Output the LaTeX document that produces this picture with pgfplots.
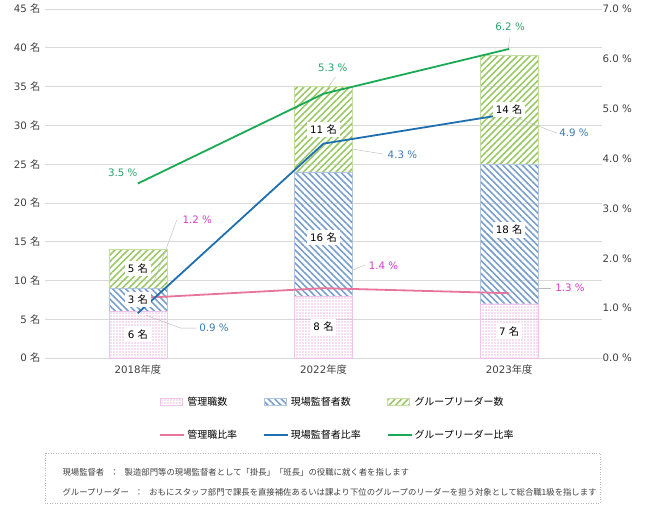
\documentclass[border=0pt]{standalone}
\usepackage{pgfplots}
\pgfplotsset{compat=1.18}
\usetikzlibrary{patterns.meta}
\usepackage{fontspec}
\setmainfont{DejaVu Sans}
\newfontfamily\jp{Noto Sans CJK JP}
\definecolor{pkdot}{HTML}{D96CC8}
\definecolor{blstripe}{HTML}{7A9FCC}
\definecolor{grstripe}{HTML}{9CC866}
\definecolor{pkline}{HTML}{E8739B}
\definecolor{blline}{HTML}{1F6FB0}
\definecolor{grline}{HTML}{1AAA55}
\definecolor{pklabel}{HTML}{D23CC8}
\definecolor{bllabel}{HTML}{3B7BB5}
\definecolor{grlabel}{HTML}{2AA36A}
\definecolor{tickgray}{HTML}{404040}
\pgfplotsset{
  barlegend/.style={legend image code/.code={\draw[##1] (0bp,-3.5bp) rectangle (22bp,3.5bp);}},
  linelegend/.style={legend image code/.code={\draw[##1] (0bp,0bp) -- (24bp,0bp);}},
  pkbar/.style={draw=pkdot!40, line width=0.4bp, pattern={Dots[radius=0.55bp, distance=3bp]}, pattern color=pkdot},
  blbar/.style={draw=blstripe!60, line width=0.4bp, pattern={Lines[angle=-45, distance=4.6bp, line width=1.6bp]}, pattern color=blstripe},
  grbar/.style={draw=grstripe!60, line width=0.4bp, pattern={Lines[angle=45, distance=4.6bp, line width=1.6bp]}, pattern color=grstripe},
}
\begin{document}
\begin{tikzpicture}[font=\fontsize{10.3}{12}\selectfont]
\useasboundingbox (-45bp,-150bp) rectangle (600bp,358bp);
\begin{axis}[
  scale only axis, width=557bp, height=349bp,
  ybar stacked, bar width=58bp,
  xmin=-0.5, xmax=2.5, ymin=0, ymax=45,
  xtick={0,1,2}, xticklabels={2018{\jp 年度},2022{\jp 年度},2023{\jp 年度}},
  ytick={0,5,...,45},
  yticklabels={0 {\jp 名},5 {\jp 名},10 {\jp 名},15 {\jp 名},20 {\jp 名},25 {\jp 名},30 {\jp 名},35 {\jp 名},40 {\jp 名},45 {\jp 名}},
  ymajorgrids, grid style={draw=gray!30, line width=0.6bp},
  axis line style={draw=none}, tick style={draw=none},
  axis y line*=left, axis x line*=bottom,
  ticklabel style={text=tickgray},
  xticklabel style={yshift=-3bp},
  yticklabel style={xshift=-1bp},
]
\addplot[pkbar] coordinates {(0,6) (1,8) (2,7)};
\addplot[blbar] coordinates {(0,3) (1,16) (2,18)};
\addplot[grbar] coordinates {(0,5) (1,11) (2,14)};
\coordinate (a1) at (axis cs:0,3);
\coordinate (a2) at (axis cs:0,7.5);
\coordinate (a3) at (axis cs:0,11.5);
\coordinate (b1) at (axis cs:1,4);
\coordinate (b2) at (axis cs:1,15.5);
\coordinate (b3) at (axis cs:1,29.5);
\coordinate (c1) at (axis cs:2,3.4);
\coordinate (c2) at (axis cs:2,16.5);
\coordinate (c3) at (axis cs:2,32);
\end{axis}
\begin{axis}[
  scale only axis, width=557bp, height=349bp,
  xmin=-0.5, xmax=2.5, ymin=0, ymax=7,
  axis y line*=right, axis x line=none,
  ytick={0,1,...,7},
  yticklabels={0.0 \%,1.0 \%,2.0 \%,3.0 \%,4.0 \%,5.0 \%,6.0 \%,7.0 \%},
  y axis line style={draw=none}, tick style={draw=none},
  ticklabel style={text=tickgray},
  yticklabel style={xshift=-3bp},
  legend columns=3,
  legend style={draw=none, fill=none, at={(axis description cs:0.2,-0.1)}, anchor=north west,
    font=\fontsize{10}{12}\selectfont\jp,
    /tikz/every even column/.append style={column sep=24bp},
    row sep=19bp, cells={anchor=west}},
]
\addlegendimage{barlegend, pkbar}
\addlegendentry{管理職数}
\addlegendimage{barlegend, blbar}
\addlegendentry{現場監督者数}
\addlegendimage{barlegend, grbar}
\addlegendentry{グループリーダー数}
\addlegendimage{linelegend, draw=pkline, line width=1.8bp}
\addlegendentry{管理職比率}
\addlegendimage{linelegend, draw=blline, line width=1.8bp}
\addlegendentry{現場監督者比率}
\addlegendimage{linelegend, draw=grline, line width=1.8bp}
\addlegendentry{グループリーダー比率}
\addplot[forget plot, pkline, line width=1.8bp, no marks] coordinates {(0,1.2) (1,1.4) (2,1.3)};
\addplot[forget plot, blline, line width=1.8bp, no marks] coordinates {(0,0.9) (1,4.3) (2,4.9)};
\addplot[forget plot, grline, line width=1.8bp, no marks] coordinates {(0,3.5) (1,5.3) (2,6.2)};
% leader lines
\draw[gray!55, line width=0.4bp] (axis cs:0.21,2.77) -- (axis cs:0.08,1.46);
\draw[gray!55, line width=0.4bp] (axis cs:0.317,0.60) -- (axis cs:0.231,0.60) -- (axis cs:0.043,0.86);
\draw[gray!55, line width=0.4bp] (axis cs:1.065,5.64) -- (axis cs:1.022,5.42);
\draw[gray!55, line width=0.4bp] (axis cs:1.323,4.09) -- (axis cs:1.156,4.19);
\draw[gray!55, line width=0.4bp] (axis cs:1.226,1.87) -- (axis cs:1.161,1.77);
\draw[gray!55, line width=0.4bp] (axis cs:2.005,6.44) -- (axis cs:1.995,6.22);
\draw[gray!55, line width=0.4bp] (axis cs:2.258,4.51) -- (axis cs:2.032,4.83);
\draw[gray!55, line width=0.4bp] (axis cs:2.226,1.40) -- (axis cs:2.15,1.40);
% percent labels
\node[text=pklabel] at (axis cs:0.32,2.77) {1.2 \%};
\node[text=bllabel] at (axis cs:0.41,0.60) {0.9 \%};
\node[text=grlabel] at (axis cs:-0.081,3.71) {3.5 \%};
\node[text=grlabel] at (axis cs:1.05,5.82) {5.3 \%};
\node[text=bllabel] at (axis cs:1.425,4.07) {4.3 \%};
\node[text=pklabel] at (axis cs:1.323,1.85) {1.4 \%};
\node[text=grlabel] at (axis cs:2.005,6.64) {6.2 \%};
\node[text=bllabel] at (axis cs:2.349,4.51) {4.9 \%};
\node[text=pklabel] at (axis cs:2.328,1.40) {1.3 \%};
\end{axis}
% bar value labels
\foreach \c/\t in {a1/6,a2/3,a3/5,b1/8,b2/16,b3/11,c1/7,c2/18,c3/14}{
  \node[fill=white, inner sep=2.8bp, text=black] at (\c) {\t\ {\jp 名}};
}
% notes box
\draw[gray!55, line width=0.5bp, dotted] (0bp,-95bp) rectangle (555bp,-145bp);
\node[anchor=west, text=tickgray, font=\fontsize{8.4}{10}\selectfont\jp] at (14bp,-114bp) {現場監督者\hspace{6bp}：\hspace{6bp}製造部門等の現場監督者として「掛長」「班長」の役職に就く者を指します};
\node[anchor=west, text=tickgray, font=\fontsize{8.4}{10}\selectfont\jp] at (14bp,-134bp) {グループリーダー\hspace{6bp}：\hspace{6bp}おもにスタッフ部門で課長を直接補佐あるいは課より下位のグループのリーダーを担う対象として総合職1級を指します};
\end{tikzpicture}
\end{document}
